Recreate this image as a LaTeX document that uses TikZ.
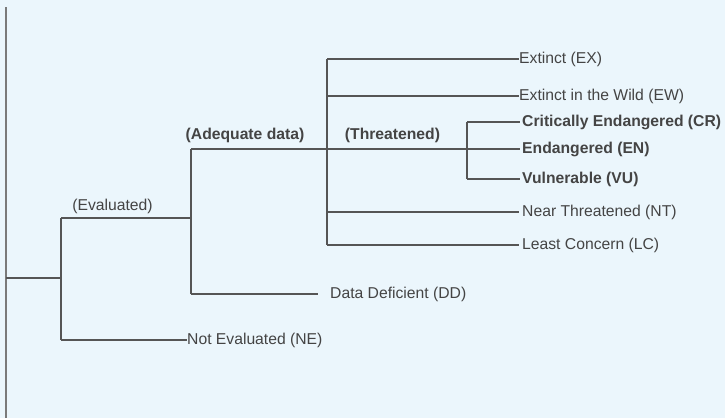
\documentclass[tikz,border=0pt]{standalone}
\usepackage{fontspec}
\setmainfont{Liberation Sans}
\definecolor{bgc}{HTML}{EBF6FC}
\definecolor{linec}{HTML}{555555}
\definecolor{axisc}{HTML}{7A7A7A}
\definecolor{txtc}{HTML}{444444}
\begin{document}
\begin{tikzpicture}[x=1pt,y=-1pt,
  branch/.style={draw=linec,line width=1.3pt},
  axisline/.style={draw=axisc,line width=2pt},
  leaf/.style={anchor=west,inner xsep=0pt,inner ysep=1pt,text=txtc,font=\fontsize{15.7}{18}\selectfont},
  leafb/.style={leaf,font=\fontsize{15.7}{18}\selectfont\bfseries},
  lbl/.style={inner sep=0pt,text=txtc,font=\fontsize{15.7}{18}\selectfont},
  lblb/.style={lbl,font=\fontsize{15.7}{18}\selectfont\bfseries}]
\fill[bgc] (0,0) rectangle (725,418);
\useasboundingbox (0,0) rectangle (725,418);
% junction coordinates
\coordinate (top) at (6,7);
\coordinate (bot) at (6,418);
\coordinate (r) at (6,278);
\coordinate (j1) at (61,278);
\coordinate (j1t) at (61,218);
\coordinate (j1b) at (61,340);
\coordinate (j2) at (191,218);
\coordinate (j2t) at (191,149);
\coordinate (j2b) at (191,294);
\coordinate (j3) at (327,149);
\coordinate (j3t) at (327,59);
\coordinate (j3b) at (327,245);
\coordinate (j3ew) at (327,96);
\coordinate (j3nt) at (327,212);
\coordinate (j4) at (467,149);
\coordinate (j4t) at (467,122);
\coordinate (j4b) at (467,179);
\coordinate (ddend) at (318,294);
\coordinate (crend) at (520,122);
\coordinate (enend) at (520,149);
\coordinate (vuend) at (520,179);
\coordinate (ntend) at (519,212);
\coordinate (lcend) at (519,245);
% leaves
\node[leaf] (ex) at (519,59) {Extinct (EX)};
\node[leaf] (ew) at (519,96) {Extinct in the Wild (EW)};
\node[leafb] (cr) at (522,122) {Critically Endangered (CR)};
\node[leafb] (en) at (522,149) {Endangered (EN)};
\node[leafb] (vu) at (522,179) {Vulnerable (VU)};
\node[leaf] (nt) at (522,212) {Near Threatened (NT)};
\node[leaf] (lc) at (522,245) {Least Concern (LC)};
\node[leaf] (dd) at (330,294) {Data Deficient (DD)};
\node[leaf] (ne) at (187,340) {Not Evaluated (NE)};
% labels
\node[lbl] (evl) at (112.5,206.5) {(Evaluated)};
\node[lblb] (adl) at (245,135) {(Adequate data)};
\node[lblb] (thl) at (392.5,135) {(Threatened)};
% lines
\draw[axisline] (top) -- (bot);
\draw[branch] (r) -- (j1);
\draw[branch] (j1t) -- (j1b);
\draw[branch] (j1t) -- (j2);
\draw[branch] (j1b) -- (ne.west);
\draw[branch] (j2t) -- (j2b);
\draw[branch] (j2b) -- (ddend);
\draw[branch] (j2t) -- (j3);
\draw[branch] (j3t) -- (j3b);
\draw[branch] (j3t) -- (ex.west);
\draw[branch] (j3ew) -- (ew.west);
\draw[branch] (j3) -- (j4);
\draw[branch] (j3nt) -- (ntend);
\draw[branch] (j3b) -- (lcend);
\draw[branch] (j4t) -- (j4b);
\draw[branch] (j4t) -- (crend);
\draw[branch] (j4) -- (enend);
\draw[branch] (j4b) -- (vuend);
\end{tikzpicture}
\end{document}
